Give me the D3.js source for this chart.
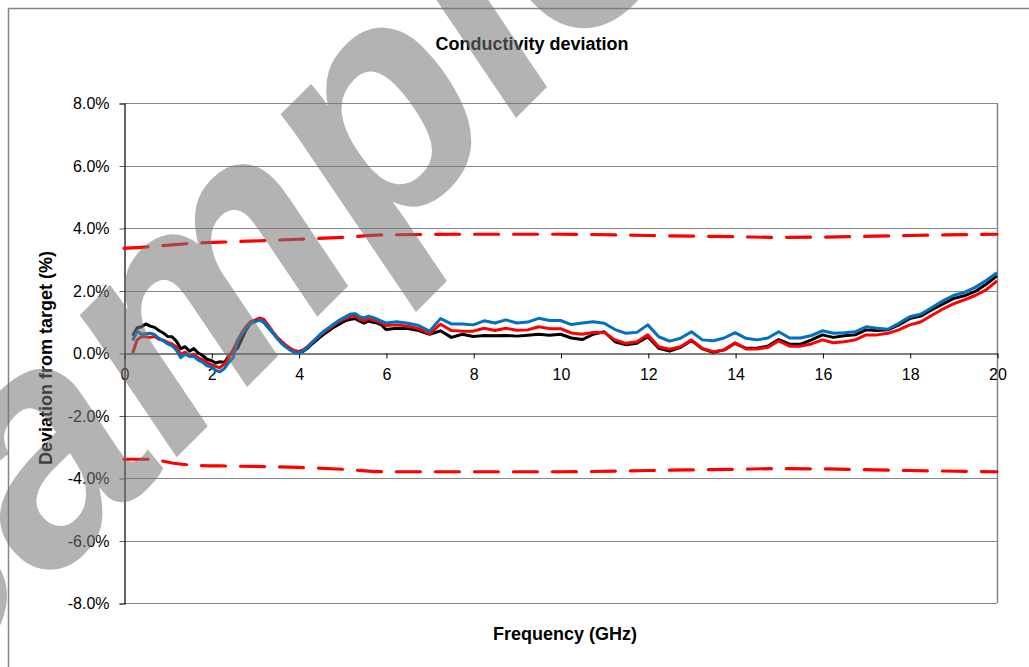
<!DOCTYPE html>
<html>
<head>
<meta charset="utf-8">
<script src="https://cdn.jsdelivr.net/npm/d3@7"></script>
<style>
  html, body { margin: 0; padding: 0; background: #fff; }
  svg { display: block; font-family: "Liberation Sans", Arial, sans-serif; }
</style>
</head>
<body>
<svg id="chart" width="1029" height="667"></svg>
<script>
// Measured conductivity deviation (%) vs frequency (GHz) for three probes
const freqGHz = [
  0.2,0.3,0.4,0.5,0.6,0.7,0.8,0.9,1.0,1.1,1.2,1.3,1.4,1.5,1.6,1.7,1.8,1.9,2.0,
  2.1,2.2,2.3,2.4,2.5,2.6,2.7,2.8,2.9,3.0,3.1,3.2,3.3,3.4,3.5,3.6,3.7,3.8,3.9,4.0,
  4.1,4.2,4.3,4.4,4.5,4.6,4.7,4.8,4.9,5.0,5.1,5.2,5.3,5.4,5.5,5.6,5.7,5.8,5.9,6.0,
  6.25,6.5,6.75,7.0,7.25,7.5,7.75,8.0,8.25,8.5,8.75,9.0,9.25,9.5,9.75,10.0,
  10.25,10.5,10.75,11.0,11.25,11.5,11.75,12.0,12.25,12.5,12.75,13.0,13.25,13.5,13.75,14.0,
  14.25,14.5,14.75,15.0,15.25,15.5,15.75,16.0,16.25,16.5,16.75,17.0,17.25,17.5,17.75,18.0,
  18.25,18.5,18.75,19.0,19.25,19.5,19.75,20.0
];

const blackDev = [
  0.55,0.80,0.84,0.93,0.86,0.82,0.72,0.64,0.53,0.52,0.38,0.14,0.20,0.06,0.14,0.00,-0.08,-0.20,-0.24,
  -0.32,-0.28,-0.30,-0.10,0.05,0.15,0.45,0.75,0.95,1.02,1.08,0.98,0.82,0.66,0.50,0.36,0.24,0.12,0.06,0.02,
  0.05,0.15,0.28,0.40,0.52,0.62,0.72,0.82,0.90,0.98,1.05,1.08,1.10,1.02,0.96,1.02,0.98,0.96,0.90,0.75,
  0.79,0.78,0.72,0.60,0.71,0.50,0.60,0.53,0.56,0.55,0.56,0.54,0.57,0.60,0.57,0.60,
  0.48,0.43,0.60,0.68,0.36,0.26,0.31,0.52,0.15,0.06,0.18,0.40,0.13,0.02,0.10,0.31,
  0.15,0.15,0.22,0.43,0.28,0.28,0.42,0.58,0.50,0.55,0.58,0.74,0.72,0.74,0.90,1.10,
  1.18,1.38,1.56,1.74,1.83,1.97,2.20,2.47
];

const redDev = [
  0.00,0.42,0.52,0.52,0.50,0.53,0.44,0.41,0.34,0.29,0.19,-0.05,0.03,-0.09,-0.04,-0.16,-0.21,-0.31,-0.37,
  -0.43,-0.47,-0.35,-0.15,0.10,0.40,0.65,0.85,1.00,1.05,1.12,1.08,0.90,0.70,0.52,0.38,0.26,0.16,0.08,0.05,
  0.10,0.20,0.33,0.46,0.58,0.68,0.78,0.88,0.98,1.06,1.12,1.18,1.18,1.08,1.04,1.10,1.06,1.02,0.96,0.88,
  0.90,0.86,0.78,0.62,0.92,0.72,0.70,0.70,0.79,0.72,0.79,0.73,0.74,0.84,0.78,0.78,
  0.64,0.60,0.66,0.66,0.42,0.31,0.36,0.58,0.20,0.12,0.20,0.42,0.15,0.04,0.10,0.33,
  0.13,0.13,0.18,0.39,0.22,0.22,0.29,0.42,0.33,0.36,0.42,0.58,0.58,0.63,0.74,0.90,
  0.99,1.20,1.40,1.57,1.70,1.84,2.02,2.31
];

const blueDev = [
  0.40,0.70,0.60,0.62,0.63,0.59,0.47,0.39,0.29,0.23,0.09,-0.15,-0.04,-0.11,-0.11,-0.23,-0.29,-0.41,-0.44,
  -0.56,-0.60,-0.50,-0.30,-0.15,0.35,0.60,0.80,0.95,1.00,1.05,1.00,0.85,0.66,0.48,0.32,0.20,0.10,0.02,0.00,
  0.06,0.18,0.32,0.46,0.60,0.72,0.82,0.92,1.02,1.10,1.18,1.25,1.26,1.16,1.12,1.18,1.14,1.08,1.02,0.96,
  1.00,0.95,0.88,0.70,1.10,0.93,0.93,0.90,1.03,0.96,1.06,0.96,0.99,1.11,1.04,1.04,
  0.91,0.96,1.00,0.95,0.75,0.63,0.66,0.90,0.52,0.38,0.47,0.68,0.42,0.39,0.48,0.65,
  0.47,0.42,0.48,0.68,0.48,0.48,0.56,0.71,0.63,0.65,0.68,0.84,0.79,0.76,0.95,1.16,
  1.24,1.45,1.66,1.84,1.94,2.10,2.32,2.57
];

// Tolerance limits
const limitFreqGHz = [0, 0.6, 1.1, 1.7, 2.5, 4, 5, 6, 8, 10, 12, 14, 15, 16, 18, 20];
const upperLimit   = [3.35, 3.40, 3.46, 3.52, 3.56, 3.64, 3.70, 3.78, 3.80, 3.80, 3.76, 3.72, 3.70, 3.71, 3.76, 3.80];
const lowerLimit   = [-3.40, -3.40, -3.52, -3.60, -3.62, -3.66, -3.72, -3.80, -3.80, -3.80, -3.76, -3.72, -3.70, -3.71, -3.76, -3.80];

const yTicks = [-8, -6, -4, -2, 0, 2, 4, 6, 8];
const xTicks = [0, 2, 4, 6, 8, 10, 12, 14, 16, 18, 20];

const titleText = "Conductivity deviation";
const xTitle = "Frequency (GHz)";
const yTitle = "Deviation from target (%)";
const stampText = "Sample";

const svg = d3.select("#chart");
const plot = { left: 124, right: 997, top: 103, bottom: 603 };

const x = d3.scaleLinear().domain([0, 20]).range([plot.left, plot.right]);
const y = d3.scaleLinear().domain([-8, 8]).range([plot.bottom, plot.top]);

// outer frame
svg.append("path")
  .attr("d", `M8.5,667 V8.5 H1029`)
  .attr("fill", "none").attr("stroke", "#868686").attr("stroke-width", 1.5);

// horizontal gridlines
svg.append("g").selectAll("line").data(yTicks.filter(d => d !== 0)).join("line")
  .attr("x1", plot.left).attr("x2", plot.right)
  .attr("y1", d => Math.round(y(d)) + 0.5).attr("y2", d => Math.round(y(d)) + 0.5)
  .attr("stroke", "#868686").attr("stroke-width", 1);

// right border of plot
svg.append("line")
  .attr("x1", plot.right + 0.5).attr("x2", plot.right + 0.5)
  .attr("y1", plot.top).attr("y2", plot.bottom)
  .attr("stroke", "#868686").attr("stroke-width", 1.5);

// y axis
const yAxis = svg.append("g")
  .attr("transform", `translate(${plot.left + 0.5},0.5)`)
  .call(d3.axisLeft(y).tickValues(yTicks).tickSize(5).tickPadding(10)
    .tickFormat(d => d.toFixed(1) + "%"));
yAxis.select(".domain").attr("stroke", "#000").attr("stroke-width", 1.2);
yAxis.selectAll(".tick line").attr("stroke", "#595959");
yAxis.selectAll("text").attr("font-size", 16).attr("fill", "#000")
  .attr("font-family", "Liberation Sans, Arial, sans-serif");

// x axis at zero
const xAxis = svg.append("g")
  .attr("transform", `translate(0.5,${Math.round(y(0)) + 0.5})`)
  .call(d3.axisBottom(x).tickValues(xTicks).tickSize(5).tickPadding(10).tickSizeOuter(0)
    .tickFormat(d3.format("d")));
xAxis.select(".domain").attr("stroke", "#000").attr("stroke-width", 1.2);
xAxis.selectAll(".tick line").attr("stroke", "#000");
xAxis.selectAll("text").attr("font-size", 16).attr("fill", "#000")
  .attr("font-family", "Liberation Sans, Arial, sans-serif");

// limit lines
const limitLine = d3.line().x((d, i) => x(limitFreqGHz[i])).y(d => y(d)).curve(d3.curveMonotoneX);
[upperLimit, lowerLimit].forEach(arr => {
  svg.append("path").datum(arr)
    .attr("d", limitLine)
    .attr("fill", "none").attr("stroke", "#ff0000").attr("stroke-width", 3.2)
    .attr("stroke-dasharray", "24,15").attr("stroke-linecap", "round");
});

// measured series
const seriesLine = d3.line().x((d, i) => x(freqGHz[i])).y(d => y(d));
[[blackDev, "#000000"], [redDev, "#ff0000"], [blueDev, "#0070c0"]].forEach(([vals, col]) => {
  svg.append("path").datum(vals)
    .attr("d", seriesLine)
    .attr("fill", "none").attr("stroke", col).attr("stroke-width", 3)
    .attr("stroke-linejoin", "round");
});

// titles
svg.append("text").attr("x", 532).attr("y", 50).attr("text-anchor", "middle")
  .attr("font-size", 18).attr("font-weight", "bold").attr("fill", "#000").text(titleText);
svg.append("text").attr("x", 565).attr("y", 640).attr("text-anchor", "middle")
  .attr("font-size", 18).attr("font-weight", "bold").attr("fill", "#000").text(xTitle);
svg.append("text").attr("transform", "translate(52,358) rotate(-90)").attr("text-anchor", "middle")
  .attr("font-size", 18).attr("font-weight", "bold").attr("fill", "#000").text(yTitle);

// translucent stamp across the chart
svg.append("text")
  .attr("transform", "translate(-104,738) rotate(-45)")
  .attr("font-size", 320).attr("font-weight", "bold").attr("font-style", "italic")
  .attr("fill", "rgb(117,117,117)").attr("fill-opacity", 0.55)
  .text(stampText);
</script>
</body>
</html>
